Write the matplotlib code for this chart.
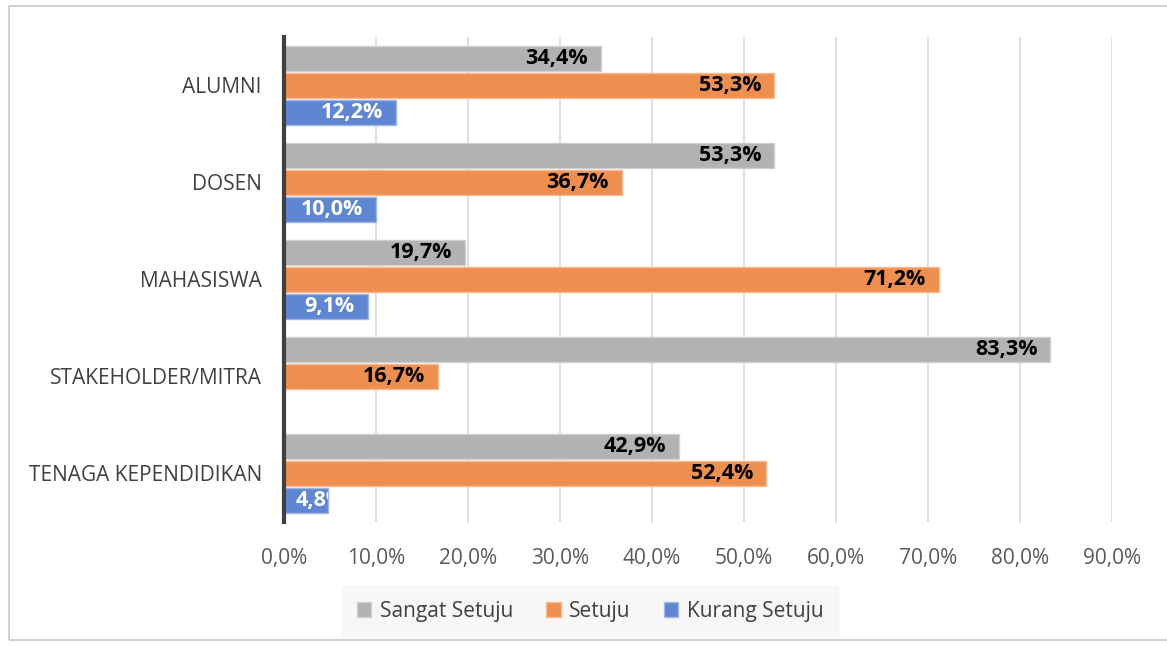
import matplotlib.pyplot as plt
import numpy as np
from matplotlib.patches import Rectangle

# Data
categories = ["ALUMNI", "DOSEN", "MAHASISWA", "STAKEHOLDER/MITRA", "TENAGA KEPENDIDIKAN"]
sangat_setuju = [34.4, 53.3, 19.7, 83.3, 42.9]
setuju = [53.3, 36.7, 71.2, 16.7, 52.4]
kurang_setuju = [12.2, 10.0, 9.1, None, 4.8]

series = [
    ("Sangat Setuju", sangat_setuju, "#B2B2B2", "#D0D0D0", "black"),
    ("Setuju", setuju, "#EF8F4F", "#F6BA92", "black"),
    ("Kurang Setuju", kurang_setuju, "#5F87D1", "#9DB6E3", "white"),
]

plt.rcParams["font.family"] = ["Open Sans", "DejaVu Sans"]

fig = plt.figure(figsize=(11.67, 6.46), dpi=100)
ax = fig.add_axes([0.2434, 0.192, 0.7095, 0.7508])

# outer chart border
fig.patches.append(Rectangle((9 / 1167, 6 / 646), 1.2, 634 / 646, transform=fig.transFigure,
                             fill=False, edgecolor="#C8C8C8", lw=1.2))

y = np.arange(len(categories))
h = 0.26
offsets = [-0.275, 0.0, 0.275]

for (name, vals, col, edge, tcol), off in zip(series, offsets):
    vv = [v if v is not None else 0 for v in vals]
    bars = ax.barh(y + off, vv, height=h, color=col, edgecolor=edge, lw=1, label=name, zorder=3)
    for b, v in zip(bars, vals):
        if v is None:
            continue
        txt = f"{v:.1f}%".replace(".", ",")
        yc = b.get_y() + b.get_height() / 2
        if v < 6:
            t = ax.annotate(txt, (0, yc), xytext=(12, 0), textcoords="offset pixels",
                            ha="left", va="center", fontsize=15.5, fontweight="bold",
                            color=tcol, zorder=4)
            t.set_clip_path(b)
        else:
            ax.annotate(txt, (v, yc), xytext=(-13, 0), textcoords="offset pixels",
                        ha="right", va="center", fontsize=15.5, fontweight="bold",
                        color=tcol, zorder=4)

ax.set_xlim(0, 90)
ax.set_ylim(len(categories) - 0.5, -0.5)
ax.set_xticks(np.arange(0, 91, 10))
ax.set_xticklabels([f"{t:.1f}%".replace(".", ",") for t in np.arange(0, 91, 10)])
ax.set_yticks(y)
ax.set_yticklabels(categories)
ax.tick_params(axis="x", length=0, pad=19, labelsize=15, labelcolor="#595959")
ax.tick_params(axis="y", length=0, pad=16, labelsize=15, labelcolor="#404040")
ax.grid(axis="x", color="#D9D9D9", lw=1.2, zorder=0)

for s in ["top", "right", "bottom"]:
    ax.spines[s].set_visible(False)
ax.spines["left"].set_color("#404040")
ax.spines["left"].set_linewidth(3)
ax.spines["left"].set_zorder(5)

leg = ax.legend(loc="center", bbox_to_anchor=(590 / 1167, 1 - 611 / 646), bbox_transform=fig.transFigure,
                ncol=3, frameon=True, fontsize=15, handlelength=0.7, handleheight=0.7,
                handletextpad=0.4, columnspacing=1.6, borderpad=0.7, fancybox=False)
leg.get_frame().set_facecolor("#F5F5F5")
leg.get_frame().set_edgecolor("#F5F5F5")
for text in leg.get_texts():
    text.set_color("#404040")

fig.savefig("out.png", dpi=100)
